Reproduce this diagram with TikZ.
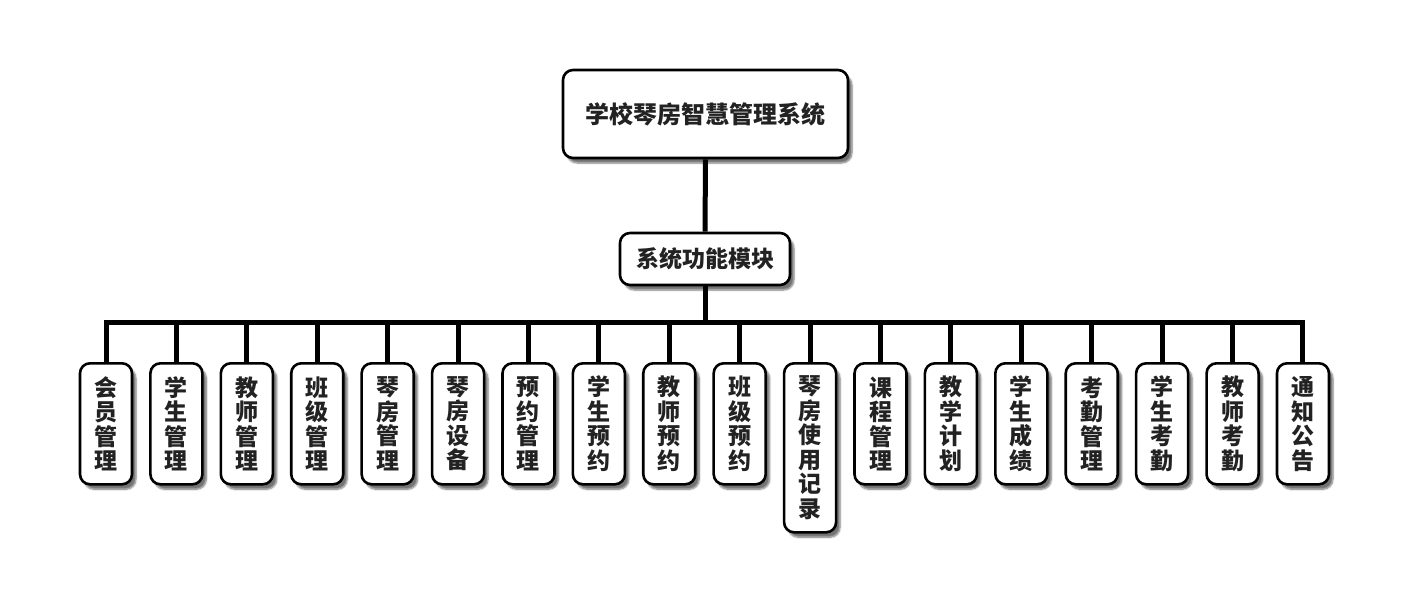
\documentclass[tikz,border=0pt]{standalone}
\usepackage{fontspec}
\newfontfamily\cjk{Noto Sans CJK SC}
\usetikzlibrary{shadows.blur}
\definecolor{txt}{HTML}{222222}
\tikzset{
  box/.style={draw=black, line width=2.6pt, rounded corners=10pt, fill=white, text=txt,
    font=\cjk\bfseries, align=center, inner sep=0pt,
    blur shadow={shadow xshift=4pt, shadow yshift=-5pt, shadow blur steps=6, shadow opacity=55}},
  child/.style={box, minimum width=52pt, minimum height=121pt, anchor=north,
    font=\cjk\bfseries\fontsize{23pt}{24.5pt}\selectfont},
  conn/.style={line width=5pt, draw=black}
}
\begin{document}
\begin{tikzpicture}[x=1pt,y=1pt]
\useasboundingbox (0,0) rectangle (1409,-607);
\node[box, minimum width=285pt, minimum height=88pt, font=\cjk\bfseries\fontsize{24pt}{28pt}\selectfont] (root) at (705.5,-114) {学校琴房智慧管理系统};
\node[box, minimum width=170pt, minimum height=52pt, font=\cjk\bfseries\fontsize{23pt}{28pt}\selectfont] (mid) at (705,-259) {系统功能模块};
\coordinate (bus) at (705,-322);
\def\names{会\\员\\管\\理/0/121, 学\\生\\管\\理/1/121, 教\\师\\管\\理/2/121, 班\\级\\管\\理/3/121, 琴\\房\\管\\理/4/121, 琴\\房\\设\\备/5/121, 预\\约\\管\\理/6/121, 学\\生\\预\\约/7/121, 教\\师\\预\\约/8/121, 班\\级\\预\\约/9/121, 琴\\房\\使\\用\\记\\录/10/169, 课\\程\\管\\理/11/121, 教\\学\\计\\划/12/121, 学\\生\\成\\绩/13/121, 考\\勤\\管\\理/14/121, 学\\生\\考\\勤/15/121, 教\\师\\考\\勤/16/121, 通\\知\\公\\告/17/121}
\foreach \t/\i/\h in \names {
  \pgfmathsetmacro{\cx}{106+\i*70.41}
  \coordinate (b\i) at (\cx,-322);
  \node[child, minimum height=\h pt] (c\i) at (\cx,-362) {\t};
}
\draw[conn] (root.south) -- (mid.north);
\draw[conn] (mid.south) -- (bus);
\draw[conn, line cap=rect] (b0) -- (b17);
\foreach \i in {0,...,17} { \draw[conn] (b\i) -- (c\i.north); }
\end{tikzpicture}
\end{document}
